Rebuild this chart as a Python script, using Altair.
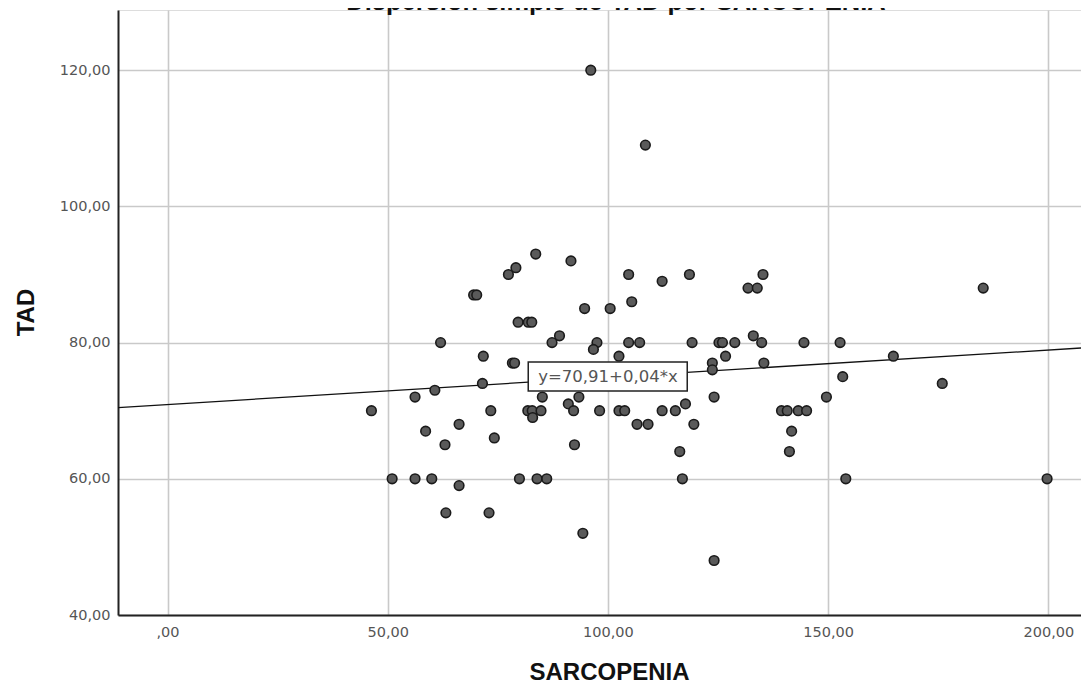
import altair as alt
import pandas as pd

# ---- data ----
sarcopenia = [
    83.6, 91.6, 79.1, 77.4, 69.5, 70.2, 94.7, 79.6, 81.9, 82.7,
    62.0, 89.0, 87.3, 71.7, 78.3, 78.8, 71.5, 60.7, 56.2, 46.3,
    73.4, 81.8, 82.8, 84.8, 82.9, 85.1, 93.4, 91.0, 92.2, 58.6,
    66.2, 74.2, 104.7, 112.3, 118.5, 135.2, 131.8, 133.9, 105.4, 100.5,
    97.5, 96.7, 104.7, 107.2, 102.5, 119.1, 125.2, 126.0, 128.8, 133.0,
    134.9, 144.5, 152.7, 126.7, 123.7, 123.7, 135.4, 153.3, 98.1, 102.5,
    103.8, 106.6, 109.1, 112.3, 115.3, 117.6, 119.5, 124.1, 149.6, 139.4,
    140.7, 143.2, 145.1, 141.7, 63.0, 92.4, 51.0, 56.2, 60.0, 66.2,
    79.9, 83.9, 86.1, 63.2, 73.0, 94.3, 116.3, 116.9, 124.1, 141.2,
    154.0, 185.2, 164.8, 175.9, 199.7, 96.1, 108.5,
]
tad = [
    93, 92, 91, 90, 87, 87, 85, 83, 83, 83,
    80, 81, 80, 78, 77, 77, 74, 73, 72, 70,
    70, 70, 70, 70, 69, 72, 72, 71, 70, 67,
    68, 66, 90, 89, 90, 90, 88, 88, 86, 85,
    80, 79, 80, 80, 78, 80, 80, 80, 80, 81,
    80, 80, 80, 78, 77, 76, 77, 75, 70, 70,
    70, 68, 68, 70, 70, 71, 68, 72, 72, 70,
    70, 70, 70, 67, 65, 65, 60, 60, 60, 59,
    60, 60, 60, 55, 55, 52, 64, 60, 48, 64,
    60, 88, 78, 74, 60, 120, 109,
]

x_ticks = [0, 50, 100, 150, 200]
y_ticks = [40, 60, 80, 100, 120]
x_domain = [-11.24, 207.4]
y_domain = [40, 128.84]

# fit line reported by the reference
intercept = 70.91
slope = 0.04
fit_label = ["y=70,91+0,04*x"]
label_x = [100.0]
label_y = [75.0]
label_box_x = [81.9]
label_box_x2 = [118.0]
label_box_y = [72.9]
label_box_y2 = [77.15]

title_text = ["Dispersión simple de TAD por SARCOPENIA"]

points = pd.DataFrame({"SARCOPENIA": sarcopenia, "TAD": tad})
line_df = pd.DataFrame({"x": x_domain})
label_df = pd.DataFrame({"label": fit_label, "x": label_x, "y": label_y,
                         "x0": label_box_x, "x1": label_box_x2,
                         "y0": label_box_y, "y1": label_box_y2})
title_df = pd.DataFrame({"t": title_text})

lab_expr = "datum.value == 0 ? ',00' : replace(format(datum.value, '.2f'), '.', ',')"

xscale = alt.Scale(domain=x_domain, nice=False, zero=False)
yscale = alt.Scale(domain=y_domain, nice=False, zero=False)

x_axis = alt.Axis(
    values=x_ticks, labelExpr=lab_expr, title="SARCOPENIA",
    grid=True, gridColor="#c9c9c9", gridWidth=1.6,
    ticks=False, domain=True, domainColor="#222222", domainWidth=2,
    labelFont="DejaVu Sans", labelFontSize=14.5, labelColor="#555555",
    labelPadding=10, labelFlush=False,
    titleFont="Liberation Sans", titleFontSize=24, titleFontWeight="bold",
    titleColor="#111111", titleX=491, titleY=64, titleBaseline="alphabetic",
)
y_axis = alt.Axis(
    values=y_ticks, labelExpr=lab_expr, title="TAD",
    grid=True, gridColor="#c9c9c9", gridWidth=1.6,
    ticks=False, domain=True, domainColor="#222222", domainWidth=2,
    labelFont="DejaVu Sans", labelFontSize=14.5, labelColor="#555555",
    labelPadding=8, labelFlush=False,
    titleFont="Liberation Sans", titleFontSize=24, titleFontWeight="bold",
    titleColor="#111111", titleX=-85, titleY=302, titleAngle=270,
    titleAlign="center", titleBaseline="alphabetic",
)

base_pts = alt.Chart(points).mark_point(
    filled=True, fill="#5a5a5a", stroke="#1a1a1a", strokeWidth=1.6,
    size=92, opacity=1, fillOpacity=1,
).encode(
    x=alt.X("SARCOPENIA:Q", scale=xscale, axis=x_axis),
    y=alt.Y("TAD:Q", scale=yscale, axis=y_axis),
)

fit = alt.Chart(line_df).transform_calculate(
    y=f"{intercept} + {slope} * datum.x"
).mark_line(color="#111111", strokeWidth=1.3, clip=True).encode(
    x=alt.X("x:Q", scale=xscale),
    y=alt.Y("y:Q", scale=yscale),
)

box = alt.Chart(label_df).mark_rect(
    fill="white", stroke="#222222", strokeWidth=1.5
).encode(
    x=alt.X("x0:Q", scale=xscale), x2="x1:Q",
    y=alt.Y("y0:Q", scale=yscale), y2="y1:Q",
)

txt = alt.Chart(label_df).mark_text(
    font="DejaVu Sans", fontSize=16.5, color="#555555",
    align="center", baseline="middle",
).encode(
    x=alt.X("x:Q", scale=xscale),
    y=alt.Y("y:Q", scale=yscale),
    text="label:N",
)

# chart title: sits at the very top edge, partly cut off as in the reference
title_mark = alt.Chart(title_df).mark_text(
    font="Liberation Sans", fontSize=25.5, fontWeight="bold", color="#111111",
    align="center", baseline="alphabetic",
).encode(
    x=alt.value(498), y=alt.value(0), text="t:N",
)

chart = alt.layer(fit, base_pts, box, txt, title_mark).properties(
    width=963, height=605,
    autosize=alt.AutoSizeParams(type="none"),
    padding={"left": 110, "top": 2, "right": 0, "bottom": 66},
).configure_view(stroke=None).configure(background="white")

chart.save("out.html", embed_options={"renderer": "svg", "actions": False})
